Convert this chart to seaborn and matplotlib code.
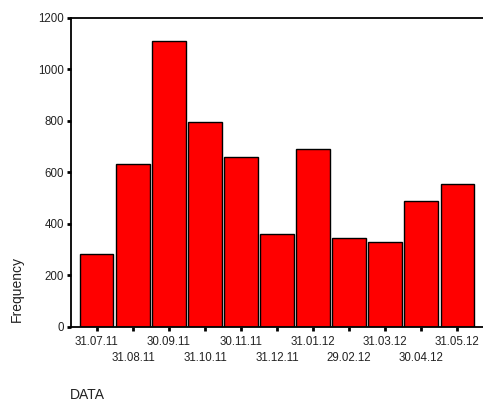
import matplotlib
matplotlib.use("Agg")
import matplotlib.pyplot as plt
import seaborn as sns

dates = ["31.07.11", "31.08.11", "30.09.11", "31.10.11", "30.11.11", "31.12.11",
         "31.01.12", "29.02.12", "31.03.12", "30.04.12", "31.05.12"]
freq = [283, 634, 1109, 797, 661, 360, 691, 343, 330, 488, 553]
yticks = [0, 200, 400, 600, 800, 1000, 1200]

sns.set_style("white")
plt.rcParams['font.family'] = ['Liberation Sans', 'DejaVu Sans']

fig = plt.figure(figsize=(4.83, 4.01), dpi=100)
ax = fig.add_axes([71/483, 1-326.7/401, 1-71/483, (326.7-18)/401])

sns.barplot(x=dates, y=freq, color="#ff0000", saturation=1, edgecolor="black",
            linewidth=1.0, width=0.92, ax=ax)

ax.set_xlim(-0.72, 10.72)
ax.set_ylim(0, 1200)
ax.set_yticks(yticks)
ax.set_yticklabels([str(v) for v in yticks], fontsize=8.3, color="#222222")

pos = list(range(len(dates)))
ax.set_xticks(pos[0::2])
ax.set_xticklabels(dates[0::2], fontsize=8.3, color="#222222")
ax.set_xticks(pos[1::2], minor=True)
ax.set_xticklabels(dates[1::2], minor=True, fontsize=8.3, color="#222222")

ax.tick_params(axis='both', which='both', direction='out', length=3, width=2,
               color='black', bottom=True, left=True)
ax.tick_params(axis='y', pad=2)
ax.tick_params(axis='x', which='major', pad=4)
ax.tick_params(axis='x', which='minor', pad=15)
for s in ['left', 'top', 'bottom']:
    ax.spines[s].set_color('black')
    ax.spines[s].set_linewidth(1.3)
ax.spines['right'].set_visible(False)
ax.set_xlabel("")
ax.set_ylabel("")

fig.text(17/483, 1-289/401, "Frequency", rotation=90, va='center', ha='center', fontsize=10, color="#222222")
fig.text(70/483, 1-395/401, "DATA", va='center', ha='left', fontsize=10, color="#222222")

fig.savefig("out.png", dpi=100)
